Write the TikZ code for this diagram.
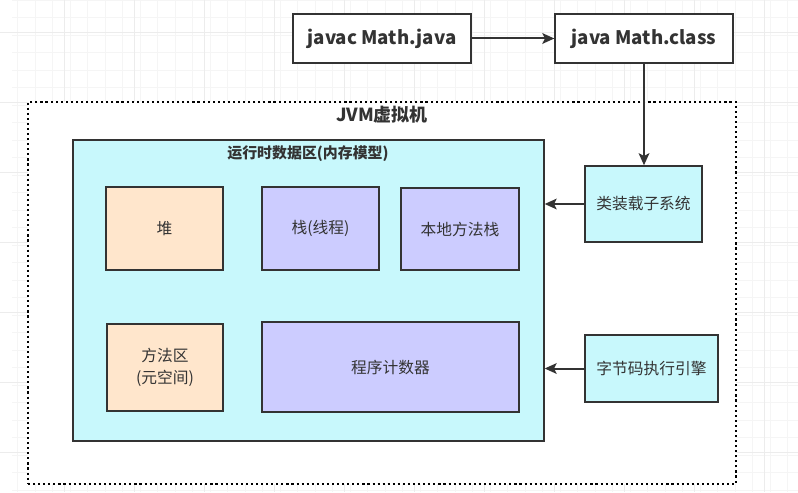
\documentclass[tikz,border=0pt]{standalone}
\usepackage{fontspec}
\setmainfont{Noto Sans CJK SC}
\usetikzlibrary{arrows.meta, positioning, calc}

\definecolor{edgegray}{HTML}{333333}
\definecolor{areacyan}{HTML}{C8F8FC}
\definecolor{heaporange}{HTML}{FFE6CC}
\definecolor{stackpurple}{HTML}{CCCCFF}

\begin{document}
\begin{tikzpicture}[
    x=0.75pt, y=-0.75pt,
    every node/.style={font=\small, text=edgegray},
    cmdbox/.style={rectangle, draw=edgegray, line width=1pt, fill=white, minimum width=133.5pt, minimum height=36.75pt, font=\bfseries\fontsize{14}{16}\selectfont},
    membox/.style={rectangle, draw=edgegray, line width=1.1pt, fill=#1, align=center, inner sep=0pt, font=\fontsize{11.8}{16}\selectfont},
    area/.style={rectangle, draw=edgegray, line width=1pt, fill=areacyan, inner sep=0pt},
    arrow/.style={-{Stealth[length=9pt, width=8pt, inset=2pt]}, line width=1.5pt, draw=edgegray},
    title/.style={font=\bfseries\fontsize{#1}{#1}\selectfont}
]
\useasboundingbox (0,0) rectangle (798,492);

% Background grid
\draw[gray!8, line width=0.6pt] (11.5,0) grid[xstep=13.125pt, ystep=13.125pt] (798,492);
\foreach \gx in {64,134,...,798} \draw[gray!15, line width=0.7pt] (\gx,0) -- (\gx,492);
\foreach \gy in {32,102,...,492} \draw[gray!15, line width=0.7pt] (0,\gy) -- (798,\gy);

% Compile and run
\node[cmdbox] (javac) at (382,38.5) {javac Math.java};
\node[cmdbox] (java) at (644,38.5) {java Math.class};

% JVM frame
\node[rectangle, draw=black, fill=white, line width=1.6pt, dash pattern=on 1.6pt off 2.2pt, minimum width=531pt, minimum height=286.5pt, inner sep=0pt] (jvm) at (382,293) {};
\node[title=13.5] (jvmlabel) at (382,115) {JVM虚拟机};

% Runtime data area
\node[area, minimum width=353.25pt, minimum height=225.75pt] (rda) at (308.5,290.5) {};
\node[title=11.2] (rdalabel) at (308,154) {运行时数据区(内存模型)};

% Row 1: heap and stacks
\node[membox=heaporange, minimum width=87.75pt, minimum height=62.25pt] (heap) at (164.5,228.5) {堆};
\node[membox=stackpurple, minimum width=87.75pt, minimum height=62.25pt] (stack) at (320.5,228.5) {栈(线程)};
\node[membox=stackpurple, minimum width=88.5pt, minimum height=61.5pt] (native) at (460,229) {本地方法栈};

% Row 2: method area and pc register
\node[membox=heaporange, minimum width=87pt, minimum height=65.25pt] (method) at (165,367.5) {方法区\\(元空间)};
\node[membox=stackpurple, minimum width=192.75pt, minimum height=67.5pt] (pc) at (390.5,367) {程序计数器};

% Subsystems
\node[membox=areacyan, minimum width=87.75pt, minimum height=57pt] (loader) at (643.5,204) {类装载子系统};
\node[membox=areacyan, minimum width=99.75pt, minimum height=50.25pt] (engine) at (651.5,368.5) {字节码执行引擎};

% Connectors
\draw[arrow] (javac.east) -- (java.west);
\draw[arrow] (java.south) -- (java.south |- loader.north);
\draw[arrow] (loader.west) -- (rda.east |- loader.west);
\draw[arrow] (engine.west) -- (rda.east |- engine.west);

\end{tikzpicture}
\end{document}
